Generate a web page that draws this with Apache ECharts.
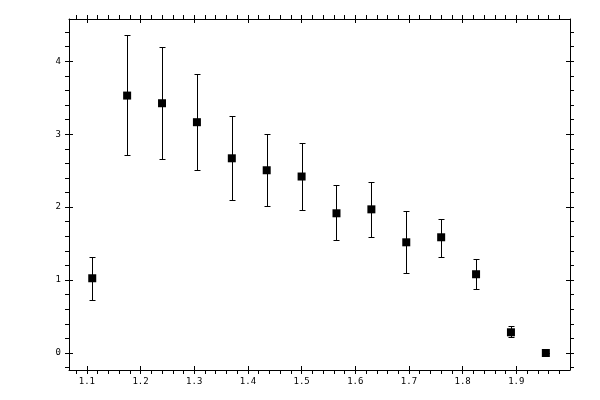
<!DOCTYPE html>
<html lang="en">
<head>
    <meta charset="UTF-8">
    <title>Error bar chart</title>
    <script src="https://cdn.jsdelivr.net/npm/echarts@6/dist/echarts.min.js"></script>
    <style>
        html, body { margin: 0; padding: 0; background: #fff; }
        #chart { width: 600px; height: 400px; }
    </style>
</head>
<body>
    <div id="chart"></div>
    <script>
        // measured points (x, y) and error bar ends
        const xValues = [1.11, 1.175, 1.24, 1.305, 1.37, 1.435, 1.5, 1.565, 1.63, 1.695, 1.76, 1.825, 1.89, 1.955];
        const yValues = [1.025, 3.53, 3.425, 3.165, 2.67, 2.506, 2.42, 1.916, 1.97, 1.518, 1.587, 1.08, 0.284, 0.0];
        const yLow    = [0.723, 2.71, 2.657, 2.506, 2.10, 2.01, 1.957, 1.546, 1.587, 1.093, 1.313, 0.874, 0.215, 0.0];
        const yHigh   = [1.313, 4.36, 4.20, 3.82, 3.25, 3.0, 2.876, 2.30, 2.35, 1.944, 1.843, 1.285, 0.366, 0.0];

        // axis ranges and ticks
        const xMin = 1.0667, xMax = 2.0;
        const yMin = -0.233, yMax = 4.58;
        const xMajor = [1.1, 1.2, 1.3, 1.4, 1.5, 1.6, 1.7, 1.8, 1.9];
        const xMinor = [1.08, 1.1, 1.12, 1.14, 1.16, 1.18, 1.2, 1.22, 1.24, 1.26, 1.28, 1.3, 1.32, 1.34, 1.36, 1.38,
                        1.4, 1.42, 1.44, 1.46, 1.48, 1.5, 1.52, 1.54, 1.56, 1.58, 1.6, 1.62, 1.64, 1.66, 1.68, 1.7,
                        1.72, 1.74, 1.76, 1.78, 1.8, 1.82, 1.84, 1.86, 1.88, 1.9, 1.92, 1.94, 1.96, 1.98];
        const yMajor = [0, 1, 2, 3, 4];
        const yMinor = [-0.2, 0, 0.2, 0.4, 0.6, 0.8, 1, 1.2, 1.4, 1.6, 1.8, 2, 2.2, 2.4, 2.6, 2.8, 3, 3.2, 3.4,
                        3.6, 3.8, 4, 4.2, 4.4];

        const points = xValues.map((x, i) => [x, yValues[i]]);
        const bars = xValues.map((x, i) => [x, yLow[i], yHigh[i]]);

        const lineStyle = { color: '#000', width: 1 };
        const labelFont = { color: '#000', fontFamily: 'DejaVu Sans Mono', fontSize: 9 };

        function makeX(position, outer, showLabel) {
            return {
                type: 'value', position: position, min: xMin, max: xMax,
                axisLine: { show: outer, onZero: false, lineStyle: lineStyle },
                axisTick: {
                    show: true, inside: !outer, length: 4, lineStyle: lineStyle,
                    customValues: outer ? xMinor : xMajor
                },
                axisLabel: Object.assign({
                    show: showLabel, margin: 7, customValues: xMajor,
                    formatter: v => v.toFixed(1)
                }, labelFont),
                splitLine: { show: false }
            };
        }

        function makeY(position, outer, showLabel) {
            return {
                type: 'value', position: position, min: yMin, max: yMax,
                axisLine: { show: outer, onZero: false, lineStyle: lineStyle },
                axisTick: {
                    show: true, inside: !outer, length: 4, lineStyle: lineStyle,
                    customValues: outer ? yMinor : yMajor
                },
                axisLabel: Object.assign({
                    show: showLabel, margin: 8, customValues: yMajor,
                    formatter: v => String(v)
                }, labelFont),
                splitLine: { show: false }
            };
        }

        const chart = echarts.init(document.getElementById('chart'));
        chart.setOption({
            animation: false,
            backgroundColor: '#fff',
            grid: { left: 69, right: 30, top: 19, bottom: 30 },
            xAxis: [
                makeX('bottom', true, true),
                makeX('bottom', false, false),
                makeX('top', true, false),
                makeX('top', false, false)
            ],
            yAxis: [
                makeY('left', true, true),
                makeY('left', false, false),
                makeY('right', true, false),
                makeY('right', false, false)
            ],
            series: [
                {
                    type: 'custom',
                    xAxisIndex: 0, yAxisIndex: 0,
                    data: bars,
                    encode: { x: 0, y: [1, 2] },
                    renderItem: function (params, api) {
                        const x = api.value(0);
                        const lo = api.coord([x, api.value(1)]);
                        const hi = api.coord([x, api.value(2)]);
                        // snap to pixel centres for crisp 1px lines
                        const px = Math.round(lo[0]) + 0.5;
                        const yl = Math.round(lo[1]) + 0.5;
                        const yh = Math.round(hi[1]) + 0.5;
                        const cap = 3;
                        const style = { stroke: '#000', lineWidth: 1 };
                        return {
                            type: 'group',
                            children: [
                                { type: 'line', shape: { x1: px, y1: yh, x2: px, y2: yl }, style: style },
                                { type: 'line', shape: { x1: px - cap, y1: yh, x2: px + cap, y2: yh }, style: style },
                                { type: 'line', shape: { x1: px - cap, y1: yl, x2: px + cap, y2: yl }, style: style }
                            ]
                        };
                    },
                    z: 2
                },
                {
                    type: 'scatter',
                    xAxisIndex: 0, yAxisIndex: 0,
                    data: points,
                    symbol: 'rect',
                    symbolSize: 8,
                    itemStyle: { color: '#000', opacity: 1 },
                    z: 3
                }
            ]
        });
    </script>
</body>
</html>
